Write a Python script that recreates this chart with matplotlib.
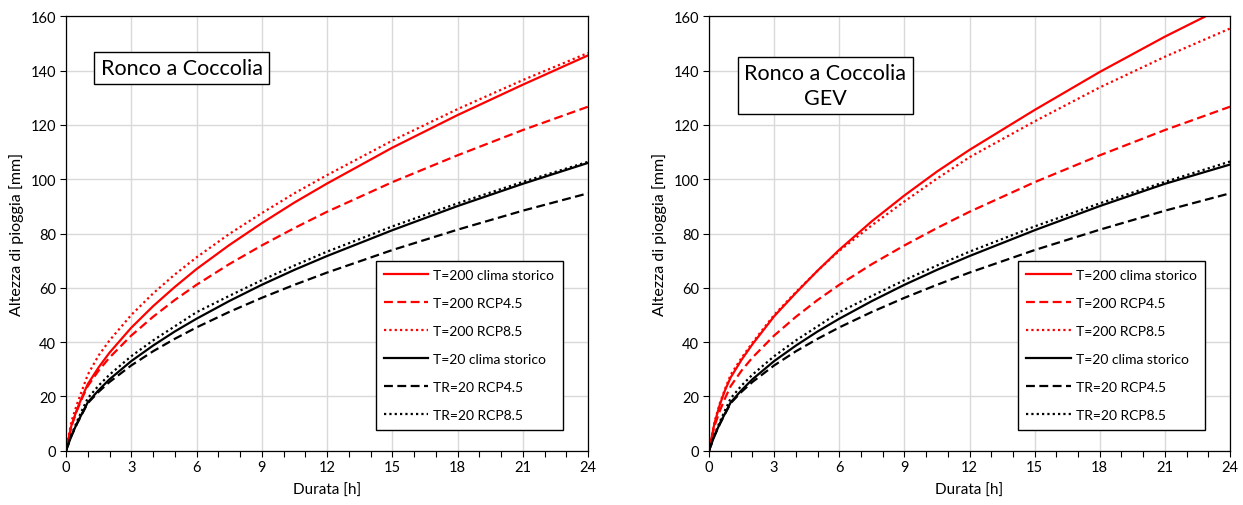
import matplotlib
matplotlib.use("Agg")
import matplotlib.pyplot as plt
from matplotlib.ticker import MultipleLocator

plt.rcParams['font.family'] = ['Lato', 'DejaVu Sans']

# durations [h]
durata = [0, 0.25, 0.5, 0.75, 1, 1.5, 2, 3, 4, 5, 6, 7.5, 9, 10.5, 12, 15, 18, 21, 24]

# Left chart: Ronco a Coccolia
L_T200_storico = [0, 9.3, 15.1, 20.0, 24.5, 30.7, 36.1, 45.3, 53.2, 60.3, 66.9, 75.7, 83.8, 91.4, 98.4, 111.6, 123.6, 134.8, 145.6]
L_T200_rcp45   = [0, 9.0, 14.7, 19.5, 23.8, 29.5, 34.3, 42.4, 49.3, 55.5, 61.1, 68.7, 75.6, 82.0, 88.0, 98.9, 108.8, 118.1, 126.7]
L_T200_rcp85   = [0, 10.8, 17.0, 22.5, 28.0, 35.1, 40.6, 50.0, 57.9, 64.9, 71.2, 79.8, 87.5, 94.8, 101.5, 114.2, 125.8, 136.5, 146.5]
L_T20_storico  = [0, 5.5, 10.0, 13.9, 17.8, 22.3, 26.3, 33.0, 38.7, 43.9, 48.6, 55.1, 61.1, 66.6, 71.7, 81.2, 90.1, 98.3, 106.0]
L_T20_rcp45    = [0, 5.4, 9.8, 13.7, 17.5, 21.7, 25.3, 31.4, 36.6, 41.2, 45.4, 51.1, 56.3, 61.1, 65.6, 73.9, 81.4, 88.4, 94.8]
L_T20_rcp85    = [0, 5.9, 10.7, 15.1, 19.3, 24.0, 28.0, 34.8, 40.6, 45.8, 51.0, 57.0, 62.8, 68.2, 73.3, 82.6, 91.1, 99.0, 106.4]

# Right chart: Ronco a Coccolia GEV
R_T200_storico = [0, 10.0, 17.0, 22.5, 27.0, 33.5, 39.2, 49.5, 58.1, 66.3, 74.0, 84.5, 94.0, 102.8, 110.8, 125.5, 139.5, 152.5, 164.5]
R_T200_rcp45   = [0, 9.0, 14.7, 19.5, 23.8, 29.5, 34.3, 42.4, 49.3, 55.5, 61.1, 68.7, 75.6, 82.0, 88.0, 98.9, 108.8, 118.1, 126.7]
R_T200_rcp85   = [0, 10.5, 17.5, 23.0, 28.0, 34.2, 39.8, 50.0, 58.4, 66.3, 73.6, 83.0, 91.8, 100.2, 108.1, 121.3, 133.8, 145.1, 155.5]
R_T20_storico  = [0, 5.5, 10.0, 13.9, 17.8, 22.3, 26.3, 33.0, 38.7, 43.9, 48.6, 55.1, 61.1, 66.6, 71.7, 81.2, 90.1, 98.3, 105.4]
R_T20_rcp45    = [0, 5.4, 9.8, 13.7, 17.5, 21.7, 25.3, 31.4, 36.6, 41.2, 45.4, 51.1, 56.3, 61.1, 65.6, 73.9, 81.4, 88.4, 94.8]
R_T20_rcp85    = [0, 5.9, 10.7, 15.1, 19.3, 24.0, 28.0, 34.8, 40.6, 45.8, 51.0, 57.0, 62.8, 68.2, 73.3, 82.6, 91.1, 99.0, 106.5]

labels = ["T=200 clima storico", "T=200 RCP4.5", "T=200 RCP8.5",
          "T=20 clima storico", "TR=20 RCP4.5", "TR=20 RCP8.5"]
titles = ["Ronco a Coccolia", "Ronco a Coccolia\nGEV"]

RED = "#FF0000"
styles = [
    dict(color=RED, linestyle='-'),
    dict(color=RED, linestyle=(0, (4, 2))),
    dict(color=RED, linestyle=(0, (1, 1.4))),
    dict(color='black', linestyle='-'),
    dict(color='black', linestyle=(0, (4, 2))),
    dict(color='black', linestyle=(0, (1, 1.4))),
]

fig = plt.figure(figsize=(12.43, 5.06), dpi=100)
ax1 = fig.add_axes([66/1243, 54.3/506, 522/1243, 434.4/506])
ax2 = fig.add_axes([709/1243, 54.3/506, 521/1243, 434.4/506])

series_sets = [
    [L_T200_storico, L_T200_rcp45, L_T200_rcp85, L_T20_storico, L_T20_rcp45, L_T20_rcp85],
    [R_T200_storico, R_T200_rcp45, R_T200_rcp85, R_T20_storico, R_T20_rcp45, R_T20_rcp85],
]
title_pos = [(0.222, 0.881), (0.2236, 0.8407)]
leg_anchor = [((375.7 - 66) / 522, (451.7 - 262) / 434.4), ((1018 - 709) / 521, (451.7 - 262) / 434.4)]

for ax, series, title, tpos, lpos in zip([ax1, ax2], series_sets, titles, title_pos, leg_anchor):
    for s, lab, st in zip(series, labels, styles):
        ax.plot(durata, s, label=lab, linewidth=1.6, **st)
    ax.set_xlim(0, 24)
    ax.set_ylim(0, 160)
    ax.xaxis.set_major_locator(MultipleLocator(3))
    ax.xaxis.set_minor_locator(MultipleLocator(1))
    ax.yaxis.set_major_locator(MultipleLocator(20))
    ax.grid(True, which='major', color='#d9d9d9', linewidth=1.0)
    ax.set_axisbelow(True)
    ax.tick_params(axis='both', which='major', direction='out', length=4, width=0.8,
                   labelsize=10.5, colors='black', pad=3)
    ax.tick_params(axis='x', which='minor', direction='out', length=4, width=0.8)
    ax.tick_params(axis='y', which='minor', left=False)
    for sp in ax.spines.values():
        sp.set_color('black')
        sp.set_linewidth(0.9)
    ax.set_xlabel("Durata [h]", fontsize=11, labelpad=6)
    ax.set_ylabel("Altezza di pioggia [mm]", fontsize=11.5, labelpad=5)
    ax.text(tpos[0], tpos[1], title, transform=ax.transAxes, ha='center', va='center',
            fontsize=15.5, linespacing=1.3,
            bbox=dict(boxstyle='square,pad=0.3', facecolor='white', edgecolor='black', linewidth=1.0))
    leg = ax.legend(loc='upper left', bbox_to_anchor=lpos, fontsize=10, frameon=True,
                    fancybox=False, framealpha=1, edgecolor='black', handlelength=3.2,
                    handletextpad=0.35, labelspacing=1.15, borderpad=0.6, borderaxespad=0)
    leg.get_frame().set_linewidth(1.0)

fig.savefig("out.png", dpi=100)
